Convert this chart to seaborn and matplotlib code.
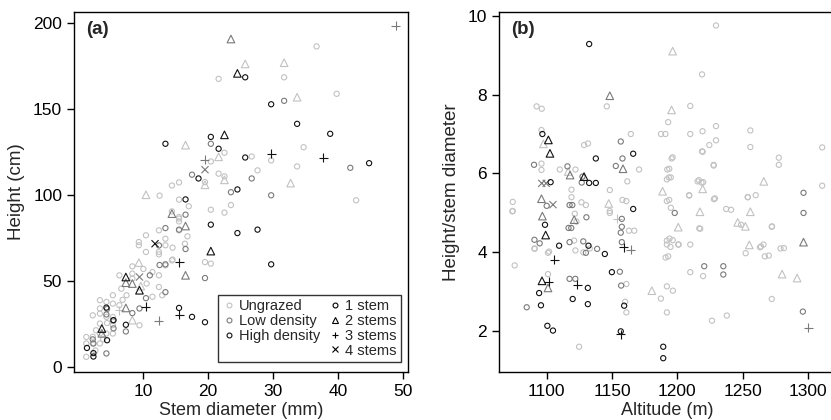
import matplotlib
matplotlib.use("Agg")
import matplotlib.pyplot as plt
from matplotlib.lines import Line2D
import seaborn as sns
import pandas as pd

sns.set_theme(style="ticks")
plt.rcParams['font.family'] = ['Liberation Sans', 'DejaVu Sans']

# grazing colours
grazing_levels = ["Ungrazed", "Low density", "High density"]
grazing_colors = {"Ungrazed": "#c2c2c2", "Low density": "#7a7a7a", "High density": "#111111"}
stem_labels = ["1 stem", "2 stems", "3 stems", "4 stems"]
stem_markers = {1: "o", 2: "^", 3: "+", 4: "x"}
stem_sizes = {1: 14, 2: 30, 3: 42, 4: 26}

# ---- panel (a): stem diameter (mm) vs height (cm) ----
a_U1 = [(36.7, 186.6), (21.6, 167.7), (31.7, 168.6), (39.8, 159), (34.7, 127.9), (22.5, 124.7),
        (20.4, 119.6), (26.7, 122.5), (29.7, 120.2), (33.7, 116.7), (27.6, 114.4), (21.6, 112.5),
        (22.5, 110.9), (19.5, 107.6), (14.4, 105.6), (15.5, 107.4), (12.5, 99.7), (15.5, 97.4),
        (42.8, 97), (23.5, 94.2), (20.4, 91.5), (22.5, 89.8), (14.4, 90.5), (15.5, 87.2),
        (15.5, 84.7), (15.5, 86.3), (15.5, 79.5), (12.4, 79.5), (10.4, 76.6), (13.4, 74.6),
        (9.3, 72.7), (9.3, 70.8), (10.4, 66.9), (12.4, 66.9), (14.5, 69.4), (16.4, 71.7),
        (13.4, 70.8), (14.4, 62), (19.5, 61), (20.4, 60.1), (13.4, 59.1), (11.4, 40.8),
        (12.4, 65.5), (14.5, 62.5), (8.3, 58.5), (6.3, 53.3), (8.3, 54.3), (8.3, 51.4),
        (11.4, 55.2), (12.4, 53.3), (10.5, 48.5), (12.4, 46.5), (12.9, 41.7), (5.3, 41.7),
        (5.3, 36.8), (4.3, 37.8), (3.3, 38.8), (6.3, 35.9), (4.3, 29.1), (3.3, 34),
        (3.3, 31), (2.2, 30), (3.3, 25.2), (5.3, 29), (5.3, 24.3), (2.7, 21.3),
        (2.2, 17.5), (3.3, 19.4), (4.3, 19.4), (1.2, 17.4), (1.2, 13.6), (1.2, 5.8),
        (2.2, 13.6), (3.3, 13.6), (9.4, 24.2), (5.3, 19.4), (7.4, 41.7), (6.6, 45.5),
        (4.4, 25.5), (3.8, 16), (2.6, 9.5), (6.8, 39), (10, 57), (17, 93.5), (16.8, 76)]
a_U2 = [(25.7, 176.4), (31.7, 177.1), (33.7, 157), (16.5, 129.1), (21.6, 122.3), (22.5, 108.9),
        (19.5, 106), (32.7, 107), (10.4, 100.2), (9.3, 60.7), (8.3, 27.2), (9.6, 47)]
a_U3 = [(6.3, 33)]
a_L1 = [(31.7, 154.9), (20.4, 129.9), (41.9, 115.9), (17.5, 111.9), (26.7, 109.7), (23.5, 101.7),
        (29.7, 99.9), (16.5, 88.6), (15.5, 79.9), (13.4, 80.8), (16.5, 68.6), (12.5, 59.3),
        (13.4, 59.7), (19.5, 51.7), (11.0, 53.3), (10.4, 40), (9.4, 34), (13.4, 43.5),
        (8.3, 31.3), (7.3, 20.6), (5.4, 22.4), (4.4, 33.7), (4.3, 7.8), (5.3, 27),
        (12.4, 70.7), (2.3, 13.6), (2.2, 16), (4.3, 30.5)]
a_L2 = [(23.5, 190.9), (14.4, 89.2), (16.5, 82), (16.5, 53.3), (7.3, 49), (8.3, 48.5),
        (7.3, 34.3), (3.6, 19.5)]
a_L3 = [(48.9, 198.7), (19.5, 120.6), (12.4, 26.8)]
a_L4 = [(19.5, 114.8), (9.4, 52.3)]
a_H1 = [(25.7, 168.6), (29.7, 152.9), (33.7, 141.5), (38.8, 135.7), (13.4, 129.9), (20.4, 133.9),
        (21.6, 127), (25.7, 121.9), (44.8, 118.6), (18.5, 109.7), (16.5, 97.5), (24.5, 103.3),
        (20.4, 82.8), (24.5, 77.9), (27.6, 79.9), (29.7, 59.7), (15.5, 34.3), (17.5, 29.1),
        (19.5, 26), (7.3, 24.5), (5.4, 27.2), (4.4, 15.5), (1.3, 11), (2.3, 8), (2.3, 6),
        (4.3, 34.5)]
a_H2 = [(24.5, 170.9), (22.5, 135.1), (20.4, 67.4), (7.3, 52.3), (9.4, 44.6), (3.6, 22.3)]
a_H3 = [(29.7, 124.1), (37.7, 121.9), (10.4, 34.9), (15.5, 30.4), (15.5, 61)]
a_H4 = [(11.8, 71.7)]

# ---- panel (b): altitude (m) vs height / stem diameter ----
b_U1 = [(1229.6, 9.75), (1218.9, 8.51), (1092.3, 7.70), (1096.2, 7.64), (1146, 7.70), (1209.9, 7.71),
        (1193, 7.3), (1187.5, 7.0), (1190.9, 7.0), (1209.9, 7.0), (1219.3, 7.07), (1229.6, 7.2),
        (1255.9, 7.09), (1255.9, 6.67), (1310.9, 6.66), (1096, 7.1), (1128.6, 6.72), (1131.6, 6.76),
        (1164.4, 7.0), (1224.5, 6.72), (1229.6, 6.84), (1218.9, 6.56), (1195.6, 6.38), (1096, 6.25),
        (1096, 6.09), (1227.8, 6.2), (1277.7, 6.4), (1277.7, 6.22), (1170.7, 6.1), (1192.3, 6.1),
        (1110, 6.1), (1122, 6.1), (1161.7, 5.8), (1192, 5.85), (1193.5, 5.9), (1216.5, 5.83),
        (1219.8, 5.78), (1310.9, 5.69), (1209, 5.45), (1254, 5.4), (1260, 5.45), (1228, 5.35),
        (1148.3, 5.58), (1158, 5.33), (1161, 5.3), (1130, 5.2), (1074, 5.28), (1192, 5.3),
        (1074, 5.05), (1090.6, 4.1), (1101, 3.99), (1121, 4.3), (1128, 4.0), (1075.5, 3.67),
        (1161, 3.2), (1101, 3.45), (1160, 2.75), (1161, 2.48), (1124.8, 1.61), (1237.4, 5.1),
        (1217.5, 4.6), (1272.3, 4.65), (1192, 4.2), (1192, 4.3), (1194, 4.35), (1201, 4.2),
        (1209.9, 4.2), (1264, 4.15), (1266, 4.2), (1252.3, 3.98), (1267, 3.9), (1279, 4.1),
        (1191, 3.87), (1193, 3.9), (1209.9, 3.5), (1219.7, 3.4), (1187.4, 2.83), (1192, 3.14),
        (1196.6, 3.03), (1192, 2.48), (1272.3, 2.82), (1226.5, 2.27), (1237.9, 2.4), (1248.8, 4.7),
        (1272.5, 4.66), (1281.6, 4.11), (1270, 3.92), (1263.3, 4.13), (1195, 5.13), (1241.1, 5.08),
        (1216.8, 4.61), (1196.5, 4.31), (1194.7, 4.14), (1200.7, 4.2), (1193.8, 6.12), (1195, 5.9),
        (1215.5, 5.8), (1218.5, 5.77), (1228.8, 5.37), (1253.9, 5.4), (1209.1, 5.44), (1193.8, 5.33),
        (1196.4, 6.41), (1219.4, 6.55), (1227.8, 6.22), (1167, 4.55), (1148.3, 5.0), (1148.3, 5.05),
        (1119, 5.59), (1119, 5.40), (1126.6, 5.27), (1121.5, 4.98), (1122.8, 4.78), (1163, 4.55),
        (1122, 4.05), (1090.8, 4.09), (1101.8, 4.02), (1133, 4.1), (1073.7, 5.04)]
b_U2 = [(1196.4, 9.10), (1195.6, 7.61), (1097.5, 6.75), (1188.7, 5.55), (1219.4, 5.61), (1266.2, 5.8),
        (1217.3, 5.03), (1255.9, 5.03), (1200.7, 4.64), (1246.2, 4.76), (1252.1, 4.66), (1255.1, 4.19),
        (1280.2, 3.45), (1291.7, 3.35), (1180.5, 3.03), (1147.5, 5.24), (1116.5, 6.05)]
b_U3 = [(1153.9, 4.85)]
b_L1 = [(1156.7, 6.81), (1158, 6.38), (1090.3, 6.22), (1152.9, 6.19), (1115.9, 6.18), (1126.8, 5.77),
        (1296.6, 5.51), (1100, 5.18), (1119.6, 5.2), (1117.5, 5.2), (1157.5, 4.85), (1157.5, 4.65),
        (1156.7, 4.5), (1157.5, 4.26), (1116.7, 4.62), (1118.8, 4.62), (1117.5, 4.26),
        (1128, 4.28), (1130, 3.99), (1138.6, 4.09), (1090.6, 4.32), (1094.6, 4.23), (1156, 3.51),
        (1117.5, 3.33), (1121.9, 3.33), (1157, 3.16), (1084.7, 2.61), (1198, 5.0), (1296.6, 5.0),
        (1220.6, 3.65), (1235.2, 3.65), (1235.2, 3.44), (1296.1, 2.5), (1127.4, 5.92), (1130.4, 4.89)]
b_L2 = [(1148.3, 7.97), (1158.4, 6.12), (1117.9, 5.96), (1096, 5.36), (1096.7, 4.92), (1121, 4.83),
        (1101, 3.1), (1296.6, 4.26)]
b_L3 = [(1300.4, 2.09), (1164.4, 4.07)]
b_L4 = [(1096.2, 5.75), (1099.6, 5.75), (1104.8, 5.21)]
b_H1 = [(1132.5, 9.28), (1096.7, 7.0), (1166.2, 6.5), (1137.6, 6.38), (1103, 5.78), (1132.5, 5.76),
        (1137.6, 5.76), (1166.2, 5.1), (1098.7, 4.70), (1109.5, 4.17), (1132, 4.17),
        (1144.5, 3.96), (1149.9, 3.5), (1131.5, 3.1), (1094.2, 2.97), (1095.6, 2.66), (1119.9, 2.82),
        (1131.5, 2.69), (1159.3, 2.65), (1100.5, 2.14), (1104.8, 2.02), (1156.7, 2.0),
        (1189.2, 1.61), (1189.2, 1.32)]
b_H2 = [(1101.3, 6.85), (1102.5, 6.51), (1128.6, 5.92), (1099.2, 4.44), (1096.4, 3.28)]
b_H3 = [(1105.6, 3.81), (1101.4, 3.26), (1123.5, 3.18), (1158.8, 4.13), (1156.7, 1.93)]


def build(groups):
    rows = []
    for graze, stems, pts in groups:
        for x, y in pts:
            rows.append({"x": x, "y": y, "grazing": graze, "stems": stems})
    return pd.DataFrame(rows)


df_a = build([("Ungrazed", 1, a_U1), ("Ungrazed", 2, a_U2), ("Ungrazed", 3, a_U3),
              ("Low density", 1, a_L1), ("Low density", 2, a_L2), ("Low density", 3, a_L3),
              ("Low density", 4, a_L4), ("High density", 1, a_H1), ("High density", 2, a_H2),
              ("High density", 3, a_H3), ("High density", 4, a_H4)])
df_b = build([("Ungrazed", 1, b_U1), ("Ungrazed", 2, b_U2), ("Ungrazed", 3, b_U3),
              ("Low density", 1, b_L1), ("Low density", 2, b_L2), ("Low density", 3, b_L3),
              ("Low density", 4, b_L4), ("High density", 1, b_H1), ("High density", 2, b_H2),
              ("High density", 3, b_H3)])


def draw(ax, df):
    # ungrazed first so the darker points sit on top
    for graze in grazing_levels:
        for stems in [1, 2, 3, 4]:
            sub = df[(df.grazing == graze) & (df.stems == stems)]
            if sub.empty:
                continue
            sns.scatterplot(data=sub, x="x", y="y", ax=ax, marker=stem_markers[stems],
                            s=stem_sizes[stems], color=grazing_colors[graze], legend=False)
    # hollow markers
    for coll in ax.collections:
        fc = coll.get_facecolors()
        coll.set_edgecolors(fc)
        coll.set_facecolors("none")
        coll.set_linewidths(0.8)
    for s in ax.spines.values():
        s.set_visible(True)
        s.set_linewidth(1.0)
        s.set_color("black")
    ax.tick_params(axis="both", direction="out", length=5, width=1, labelsize=12.5, colors="black")
    ax.grid(False)


fig = plt.figure(figsize=(8.31, 4.20), dpi=100)
ax1 = fig.add_axes([0.089, 0.1143, 0.402, 0.857])
ax2 = fig.add_axes([0.6005, 0.1143, 0.404, 0.857])

draw(ax1, df_a)
ax1.set_xlim(-0.7, 50.8)
ax1.set_ylim(-3, 206.6)
ax1.set_xticks([10, 20, 30, 40, 50])
ax1.set_yticks([0, 50, 100, 150, 200])
ax1.set_xlabel("Stem diameter (mm)", fontsize=13, labelpad=2)
ax1.set_ylabel("Height (cm)", fontsize=13.5, labelpad=6)
ax1.text(0.035, 0.975, "(a)", transform=ax1.transAxes, fontsize=13.5, fontweight="bold", va="top")

draw(ax2, df_b)
ax2.set_xlim(1063.5, 1320.5)
ax2.set_ylim(0.97, 10.09)
ax2.set_xticks([1100, 1150, 1200, 1250, 1300])
ax2.set_yticks([2, 4, 6, 8, 10])
ax2.set_xlabel("Altitude (m)", fontsize=13, labelpad=2)
ax2.set_ylabel("Height/stem diameter", fontsize=13.5, labelpad=6)
ax2.text(0.035, 0.975, "(b)", transform=ax2.transAxes, fontsize=13.5, fontweight="bold", va="top")

# legend: grazing colours in the first column, stem counts in the second
handles = []
for graze in grazing_levels:
    handles.append(Line2D([], [], linestyle="none", marker="o", markersize=3.5, markerfacecolor="none",
                          markeredgecolor=grazing_colors[graze], markeredgewidth=0.8, label=graze))
handles.append(Line2D([], [], linestyle="none", marker="none", label=" "))
for stems, lab in zip([1, 2, 3, 4], stem_labels):
    handles.append(Line2D([], [], linestyle="none", marker=stem_markers[stems],
                          markersize=3.5 if stems == 1 else 5, markerfacecolor="none",
                          markeredgecolor="black", markeredgewidth=0.8, label=lab))
leg = ax1.legend(handles=handles, ncol=2, loc="lower right", bbox_to_anchor=(0.978, 0.028),
                 fontsize=10.5, frameon=True, fancybox=False, edgecolor="black",
                 handlelength=0.8, handletextpad=0.3, columnspacing=0.6, labelspacing=0.05,
                 borderpad=0.3, borderaxespad=0)
leg.get_frame().set_linewidth(1.0)

fig.savefig("out.png", dpi=100)
